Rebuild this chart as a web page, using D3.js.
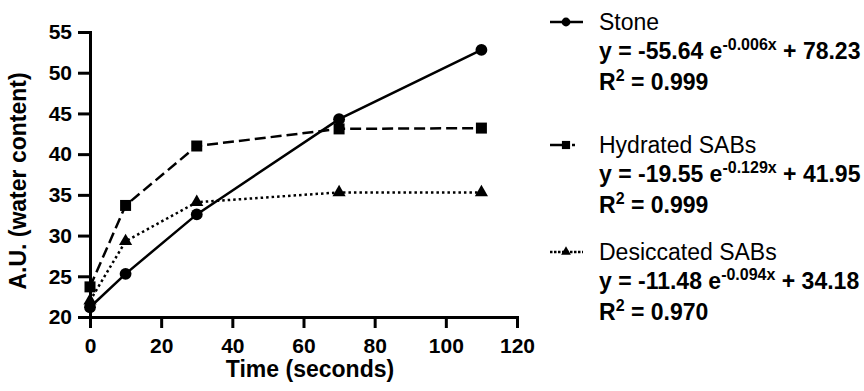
<!DOCTYPE html>
<html>
<head>
<meta charset="utf-8">
<script src="https://cdn.jsdelivr.net/npm/d3@7"></script>
<style>
  body { margin: 0; background: #fff; }
  svg { font-family: "Liberation Sans", Arial, Helvetica, sans-serif; }
</style>
</head>
<body>
<svg id="chart" width="864" height="391"></svg>
<script>
// data
var times = [0, 10, 30, 70, 110];
var stone = [21.2, 25.3, 32.6, 44.3, 52.8];
var hydrated = [23.7, 33.7, 41.0, 43.1, 43.2];
var desiccated = [22.0, 29.3, 34.1, 35.3, 35.3];

var seriesNames = ["Stone", "Hydrated SABs", "Desiccated SABs"];
var coefA = ["-55.64", "-19.55", "-11.48"];
var coefK = ["-0.006x", "-0.129x", "-0.094x"];
var coefC = ["78.23", "41.95", "34.18"];
var rSquared = ["0.999", "0.999", "0.970"];

var xTicks = [0, 20, 40, 60, 80, 100, 120];
var yTicks = [20, 25, 30, 35, 40, 45, 50, 55];

var svg = d3.select("#chart");

var x = d3.scaleLinear().domain([0, 120]).range([90, 517]);
var y = d3.scaleLinear().domain([20, 55]).range([317, 32]);

// axes
var gx = svg.append("g")
    .attr("transform", "translate(0," + y(20) + ")")
    .call(d3.axisBottom(x).tickValues(xTicks).tickSize(11).tickPadding(10).tickSizeOuter(0));
var gy = svg.append("g")
    .attr("transform", "translate(" + x(0) + ",0)")
    .call(d3.axisLeft(y).tickValues(yTicks).tickSize(12).tickPadding(6).tickSizeOuter(0));

[gx, gy].forEach(function (g) {
    g.selectAll("path, line").attr("stroke", "#000").attr("stroke-width", 3);
    g.selectAll("path").attr("stroke-linecap", "square");
    g.selectAll("text").attr("fill", "#000")
        .style("font-size", "21px").style("font-weight", "bold")
        .style("font-family", "'Liberation Sans', Arial, sans-serif");
});

svg.append("text")
    .attr("x", 310).attr("y", 377)
    .attr("text-anchor", "middle")
    .style("font-size", "23px").style("font-weight", "bold")
    .text("Time (seconds)");

svg.append("text")
    .attr("transform", "translate(26,181) rotate(-90)")
    .attr("text-anchor", "middle")
    .style("font-size", "23px").style("font-weight", "bold")
    .text("A.U. (water content)");

// series
var series = [
    { name: seriesNames[0], values: stone, dash: null, shape: d3.symbolCircle, size: 110 },
    { name: seriesNames[1], values: hydrated, dash: "11,5", shape: d3.symbolSquare, size: 121 },
    { name: seriesNames[2], values: desiccated, dash: "2.5,3", shape: d3.symbolTriangle, size: 75 }
];

var line = d3.line()
    .x(function (d) { return x(d[0]); })
    .y(function (d) { return y(d[1]); });

series.forEach(function (s) {
    var pts = times.map(function (t, i) { return [t, s.values[i]]; });
    svg.append("path")
        .datum(pts)
        .attr("d", line)
        .attr("fill", "none")
        .attr("stroke", "#000")
        .attr("stroke-width", 2.5)
        .attr("stroke-dasharray", s.dash);
    svg.selectAll(null)
        .data(pts)
        .enter().append("path")
        .attr("transform", function (d) { return "translate(" + x(d[0]) + "," + y(d[1]) + ")"; })
        .attr("d", d3.symbol().type(s.shape).size(s.size))
        .attr("fill", "#000");
});

// legend
var legendBase = [30, 153, 260];
var legend = svg.append("g");

series.forEach(function (s, i) {
    var by = legendBase[i];
    var g = legend.append("g");
    g.append("line")
        .attr("x1", 550).attr("x2", 583)
        .attr("y1", by - 8).attr("y2", by - 8)
        .attr("stroke", "#000").attr("stroke-width", 2.5)
        .attr("stroke-dasharray", i === 1 ? "14,4,0,4,3" : (i === 2 ? "2.5,1.5" : null));
    g.append("path")
        .attr("transform", "translate(566," + (by - 8) + ")")
        .attr("d", d3.symbol().type(s.shape).size(s.size * 0.55))
        .attr("fill", "#000");
    g.append("text")
        .attr("x", 599).attr("y", by)
        .style("font-size", "23px")
        .text(s.name);

    var eq = g.append("text")
        .attr("x", 599).attr("y", by + 29)
        .style("font-size", "23px").style("font-weight", "bold");
    eq.append("tspan").text("y = " + coefA[i] + " e");
    eq.append("tspan").attr("dy", -9).style("font-size", "16px").text(coefK[i]);
    eq.append("tspan").attr("dy", 9).text(" + " + coefC[i]);

    var r2 = g.append("text")
        .attr("x", 599).attr("y", by + 60)
        .style("font-size", "23px").style("font-weight", "bold");
    r2.append("tspan").text("R");
    r2.append("tspan").attr("dy", -9).style("font-size", "16px").text("2");
    r2.append("tspan").attr("dy", 9).text(" = " + rSquared[i]);
});
</script>
</body>
</html>
